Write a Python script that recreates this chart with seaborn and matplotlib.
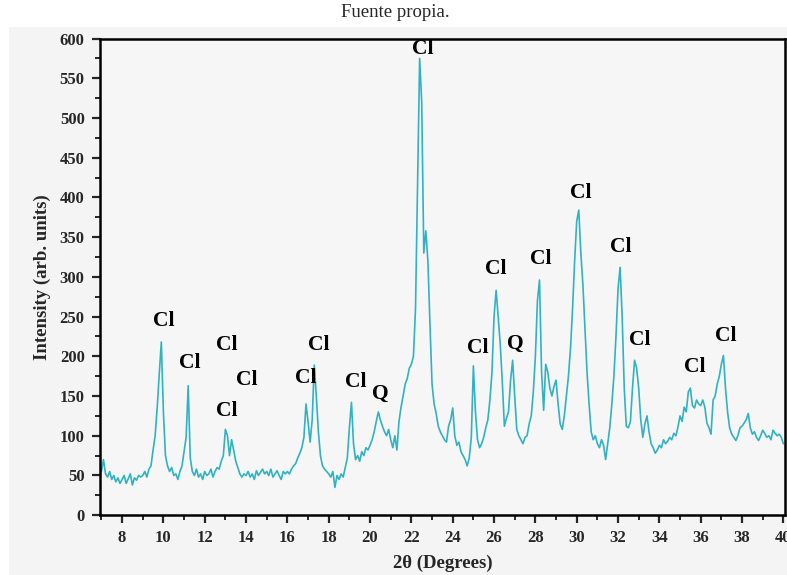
import numpy as np
import pandas as pd
import matplotlib
matplotlib.use("Agg")
import matplotlib.pyplot as plt
import seaborn as sns

# 2theta grid, 0.1 deg steps from 7.0 to 40.0
two_theta = np.round(np.arange(70, 401) / 10.0, 1)

# intensity, one row per degree (x.0 ... x.9)
intensity = [
    55, 70, 52, 48, 55, 45, 50, 42, 47, 40,            # 7
    45, 50, 40, 46, 52, 38, 47, 44, 50, 48,            # 8
    50, 55, 48, 58, 62, 82, 100, 135, 178, 218,        # 9
    130, 75, 62, 55, 60, 50, 52, 45, 55, 62,           # 10
    80, 98, 163, 72, 55, 50, 58, 48, 52, 45,           # 11
    55, 50, 52, 58, 48, 55, 60, 58, 68, 75,            # 12
    108, 100, 75, 95, 82, 68, 60, 52, 48, 52,          # 13
    50, 55, 48, 52, 45, 56, 50, 54, 58, 52,            # 14
    55, 50, 58, 48, 52, 56, 50, 45, 55, 52,            # 15
    55, 52, 58, 62, 65, 72, 78, 85, 98, 140,           # 16
    118, 92, 120, 189, 150, 105, 75, 62, 58, 55,       # 17
    52, 48, 55, 35, 50, 45, 52, 48, 60, 72,            # 18
    110, 142, 90, 70, 75, 68, 80, 75, 85, 82,          # 19
    88, 95, 105, 118, 130, 120, 112, 105, 100, 108,    # 20
    95, 85, 100, 82, 118, 136, 150, 165, 172, 185,     # 21
    190, 200, 260, 420, 575, 520, 330, 358, 320, 240,  # 22
    165, 140, 128, 112, 105, 100, 95, 92, 112, 120,    # 23
    135, 100, 88, 92, 80, 75, 70, 62, 72, 98,          # 24
    188, 130, 95, 85, 90, 98, 110, 120, 145, 180,      # 25
    250, 283, 250, 215, 168, 112, 122, 130, 170, 195,  # 26
    150, 108, 100, 95, 90, 98, 100, 115, 125, 155,     # 27
    200, 270, 296, 180, 132, 190, 180, 160, 150, 162,  # 28
    170, 140, 115, 108, 125, 150, 175, 210, 260, 320,  # 29
    370, 384, 330, 290, 235, 180, 140, 105, 95, 100,   # 30
    90, 85, 95, 88, 70, 90, 110, 140, 175, 225,        # 31
    285, 312, 250, 160, 112, 110, 118, 160, 195, 185,  # 32
    160, 120, 98, 115, 125, 105, 90, 85, 78, 82,       # 33
    88, 85, 95, 90, 93, 98, 95, 103, 100, 111,         # 34
    125, 118, 136, 130, 155, 160, 138, 135, 145, 140,  # 35
    138, 145, 136, 116, 110, 102, 145, 150, 165, 175,  # 36
    190, 201, 160, 130, 110, 102, 98, 94, 100, 110,    # 37
    112, 116, 120, 128, 110, 102, 105, 98, 94, 100,    # 38
    107, 103, 98, 100, 95, 107, 103, 100, 102, 98,     # 39
    90,                                                # 40
]

# phase labels above the peaks
label_text = ["Cl", "Cl", "Cl", "Cl", "Cl", "Cl", "Cl", "Cl", "Q",
              "Cl", "Cl", "Cl", "Q", "Cl", "Cl", "Cl", "Cl", "Cl", "Cl"]
label_x = [10.0, 11.26, 13.07, 14.04, 13.07, 17.52, 16.87, 19.29, 20.5,
           22.53, 25.19, 26.08, 27.05, 28.26, 30.2, 32.14, 33.03, 35.69, 37.23]
label_y = [245, 192, 214, 170, 131, 214, 173, 168, 153,
           587, 210, 310, 216, 322, 405, 337, 220, 187, 225]

df = pd.DataFrame({"two_theta": two_theta, "intensity": intensity})

sns.set_style("ticks")
plt.rcParams['font.family'] = ['Liberation Serif', 'DejaVu Serif']

fig = plt.figure(figsize=(7.87, 5.75), dpi=100)
fig.patch.set_facecolor("white")
# light grey scanned background behind the plot
fig.patches.append(plt.Rectangle((0.012, 0.0), 0.988, 0.953, transform=fig.transFigure,
                                 facecolor="#f4f4f4", edgecolor="none", zorder=-10))
ax = fig.add_axes([0.127, 0.104, 0.871, 0.829])
ax.set_facecolor("#f6f6f6")

sns.lineplot(data=df, x="two_theta", y="intensity", ax=ax, color="#2fb3c4", linewidth=1.2)

for t, x, y in zip(label_text, label_x, label_y):
    ax.text(x, y, t, ha="center", va="center", fontsize=15.5, fontweight="bold", color="black")

ax.set_xlim(6.93, 40.1)
ax.set_ylim(0, 600)
ax.set_xticks(np.arange(8, 41, 2))
ax.set_xticks(np.arange(7, 41, 1), minor=True)
ax.set_yticks(np.arange(0, 601, 50))
ax.set_yticks(np.arange(0, 601, 25), minor=True)
ax.tick_params(axis="both", which="major", direction="out", length=6, width=1.6,
               labelsize=12, pad=5)
ax.tick_params(axis="both", which="minor", direction="out", length=3.5, width=1.4)
for lab in ax.get_xticklabels() + ax.get_yticklabels():
    lab.set_fontweight("bold")
for sp in ax.spines.values():
    sp.set_linewidth(1.8)
    sp.set_color("black")

ax.set_xlabel("2θ (Degrees)", fontsize=13.5, fontweight="bold", labelpad=6)
ax.set_ylabel("Intensity (arb. units)", fontsize=13.5, fontweight="bold", labelpad=6)
fig.text(0.502, 0.978, "Fuente propia.", ha="center", va="center", fontsize=13.5)

fig.savefig("out.png", dpi=100)
